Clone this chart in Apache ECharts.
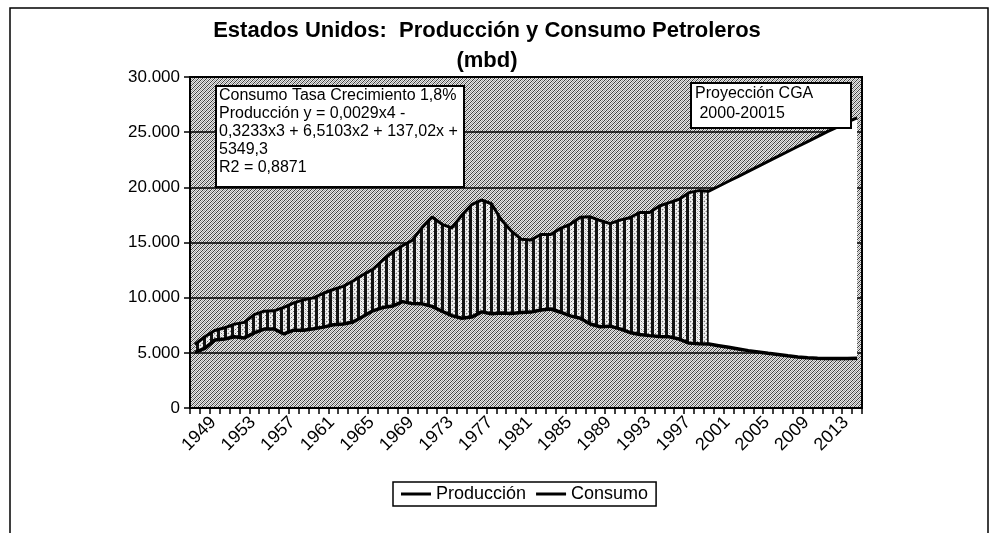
<!DOCTYPE html>
<html>
<head>
<meta charset="utf-8">
<title>Estados Unidos: Producción y Consumo Petroleros</title>
<script src="https://cdn.jsdelivr.net/npm/echarts@6.0.0/dist/echarts.min.js"></script>
<style>
  html, body { margin: 0; padding: 0; background: #fff; }
  #chart { width: 999px; height: 533px; }
</style>
</head>
<body>
<div id="chart"></div>
<script>
// años (categorías del eje x)
const years = [
  '1949', '1950', '1951', '1952', '1953', '1954', '1955', '1956', '1957', '1958',
  '1959', '1960', '1961', '1962', '1963', '1964', '1965', '1966', '1967', '1968',
  '1969', '1970', '1971', '1972', '1973', '1974', '1975', '1976', '1977', '1978',
  '1979', '1980', '1981', '1982', '1983', '1984', '1985', '1986', '1987', '1988',
  '1989', '1990', '1991', '1992', '1993', '1994', '1995', '1996', '1997', '1998',
  '1999', '2000', '2001', '2002', '2003', '2004', '2005', '2006', '2007', '2008',
  '2009', '2010', '2011', '2012', '2013', '2014', '2015', '2016'
]

// mbd, 1949-2001 histórico, 2002-2016 proyección
const produccion = [
  5050, 5410, 6160, 6260, 6460, 6340, 6810, 7150, 7170, 6710,
  7050, 7040, 7180, 7330, 7540, 7610, 7800, 8300, 8810, 9100,
  9240, 9640, 9460, 9440, 9210, 8770, 8370, 8130, 8240, 8710,
  8550, 8600, 8570, 8650, 8690, 8880, 8970, 8680, 8350, 8140,
  7610, 7360, 7420, 7170, 6850, 6660, 6560, 6470, 6450, 6250,
  5880, 5820, 5800, 5650, 5500, 5350, 5200, 5080, 4960, 4850,
  4730, 4620, 4550, 4500, 4480, 4480, 4480, 4500
]

const consumo = [
  5760, 6460, 7020, 7270, 7600, 7760, 8460, 8780, 8810, 9120,
  9530, 9800, 9980, 10400, 10740, 11020, 11510, 12080, 12560, 13390,
  14140, 14700, 15210, 16370, 17310, 16650, 16320, 17460, 18430, 18850,
  18510, 17060, 16060, 15300, 15230, 15730, 15730, 16280, 16670, 17280,
  17330, 16990, 16710, 17030, 17240, 17720, 17720, 18310, 18620, 18920,
  19520, 19700, 19650, 20100, 20550, 21000, 21450, 21900, 22350, 22800,
  23250, 23700, 24150, 24600, 25050, 25450, 25900, 26300
]

const ultimoHistorico = '2001'

const titulo = ['Estados Unidos:  Producción y Consumo Petroleros', '(mbd)']
const notaAjuste = [
  'Consumo Tasa Crecimiento 1,8%',
  'Producción y = 0,0029x4 -',
  '0,3233x3 + 6,5103x2 + 137,02x +',
  '5349,3',
  'R2 = 0,8871'
]
const notaProyeccion = ['Proyección CGA', ' 2000-20015']

const FONT = '"Liberation Sans", Arial, sans-serif'

// textura gris del fondo (trama diagonal)
function texturaGris() {
  const c = document.createElement('canvas')
  c.width = 4
  c.height = 4
  const ctx = c.getContext('2d')
  for (let y = 0; y < 4; y++) {
    for (let x = 0; x < 4; x++) {
      const k = (x + y) % 4
      ctx.fillStyle = k === 0 ? '#3e3e3e' : k === 2 ? '#a0a0a0' : '#e8e8e8'
      ctx.fillRect(x, y, 1, 1)
    }
  }
  return c
}

// rayado vertical entre las dos curvas
function rayado() {
  const c = document.createElement('canvas')
  c.width = 7
  c.height = 4
  const ctx = c.getContext('2d')
  ctx.fillStyle = 'rgba(255,255,255,0.7)'
  ctx.fillRect(3, 0, 4, 4)
  ctx.fillStyle = '#111'
  ctx.fillRect(0, 0, 3, 4)
  ctx.fillStyle = 'rgba(40,40,40,0.6)'
  ctx.fillRect(4, 1, 1, 1)
  ctx.fillRect(6, 3, 1, 1)
  return c
}

const iHist = years.indexOf(ultimoHistorico)
const baseHist = produccion.map((v, i) => (i <= iHist ? v : null))
const difHist = consumo.map((v, i) => (i <= iHist ? v - produccion[i] : null))
const baseProy = produccion.map((v, i) => (i >= iHist ? v : null))
const difProy = consumo.map((v, i) => (i >= iHist ? v - produccion[i] : null))

function miles(v) {
  return String(v).replace(/\B(?=(\d{3})+(?!\d))/g, '.')
}

const chart = echarts.init(document.getElementById('chart'))

const option = {
  animation: false,
  backgroundColor: '#fff',
  legend: {
    data: ['Producción', 'Consumo'],
    left: 393,
    top: 482,
    padding: [3, 8],
    icon: 'rect',
    itemWidth: 30,
    itemHeight: 3,
    itemGap: 10,
    backgroundColor: '#fff',
    borderColor: '#000',
    borderWidth: 1.5,
    textStyle: { fontFamily: FONT, fontSize: 18, color: '#000' }
  },
  grid: {
    left: 190,
    right: 137,
    top: 77,
    bottom: 125,
    show: true,
    backgroundColor: { image: texturaGris(), repeat: 'repeat' },
    borderColor: '#000',
    borderWidth: 2
  },
  xAxis: {
    type: 'category',
    data: years,
    boundaryGap: true,
    axisLine: { lineStyle: { color: '#000', width: 2 } },
    axisTick: { show: true, interval: 0, length: 6, lineStyle: { color: '#000', width: 1.5 } },
    axisLabel: {
      interval: 3,
      rotate: 45,
      align: 'center',
      verticalAlign: 'middle',
      padding: [0, 0, 0, 12],
      margin: 30,
      color: '#000',
      fontFamily: FONT,
      fontSize: 18
    },
    splitLine: { show: false }
  },
  yAxis: {
    type: 'value',
    min: 0,
    max: 30000,
    interval: 5000,
    axisLine: { show: true, lineStyle: { color: '#000', width: 2 } },
    axisTick: { show: true, length: 6, lineStyle: { color: '#000', width: 1.5 } },
    axisLabel: {
      margin: 10,
      color: '#000',
      fontFamily: FONT,
      fontSize: 17,
      formatter: miles
    },
    splitLine: { lineStyle: { color: '#000', width: 1.5 } }
  },
  series: [
    {
      name: 'baseHist',
      type: 'line',
      stack: 'hist',
      data: baseHist,
      symbol: 'none',
      lineStyle: { width: 0 },
      silent: true
    },
    {
      name: 'difHist',
      type: 'line',
      stack: 'hist',
      data: difHist,
      symbol: 'none',
      lineStyle: { width: 0 },
      areaStyle: { color: { image: rayado(), repeat: 'repeat' }, opacity: 1 },
      silent: true
    },
    {
      name: 'baseProy',
      type: 'line',
      stack: 'proy',
      data: baseProy,
      symbol: 'none',
      lineStyle: { width: 0 },
      silent: true
    },
    {
      name: 'difProy',
      type: 'line',
      stack: 'proy',
      data: difProy,
      symbol: 'none',
      lineStyle: { width: 0 },
      areaStyle: { color: '#fff', opacity: 1 },
      silent: true
    },
    {
      name: 'Producción',
      type: 'line',
      data: produccion,
      symbol: 'none',
      z: 5,
      itemStyle: { color: '#000' },
      lineStyle: { color: '#000', width: 3.5 }
    },
    {
      name: 'Consumo',
      type: 'line',
      data: consumo,
      symbol: 'none',
      z: 5,
      itemStyle: { color: '#000' },
      lineStyle: { color: '#000', width: 3 }
    }
  ],
  graphic: [
    // marco exterior
    {
      type: 'rect',
      z: 0,
      shape: { x: 10, y: 8, width: 978, height: 540 },
      style: { fill: 'none', stroke: '#000', lineWidth: 1.5 }
    },
    // título en dos líneas, centrado sobre el gráfico
    {
      type: 'text',
      z: 10,
      x: 487,
      y: 31,
      style: {
        text: titulo[0],
        font: 'bold 22px ' + FONT,
        textAlign: 'center',
        textVerticalAlign: 'middle',
        fill: '#000'
      }
    },
    {
      type: 'text',
      z: 10,
      x: 487,
      y: 61,
      style: {
        text: titulo[1],
        font: 'bold 22px ' + FONT,
        textAlign: 'center',
        textVerticalAlign: 'middle',
        fill: '#000'
      }
    },
    {
      type: 'rect',
      z: 100,
      shape: { x: 216, y: 86, width: 248, height: 101 },
      style: { fill: '#fff', stroke: '#000', lineWidth: 2 }
    },
    {
      type: 'text',
      z: 101,
      left: 219,
      top: 87,
      style: {
        text: notaAjuste.join('\n'),
        font: '16px ' + FONT,
        lineHeight: 18,
        fill: '#000'
      }
    },
    {
      type: 'rect',
      z: 100,
      shape: { x: 691, y: 83, width: 160, height: 45 },
      style: { fill: '#fff', stroke: '#000', lineWidth: 2 }
    },
    {
      type: 'text',
      z: 101,
      left: 695,
      top: 84,
      style: {
        text: notaProyeccion.join('\n'),
        font: '16px ' + FONT,
        lineHeight: 20,
        fill: '#000'
      }
    }
  ]
}

chart.setOption(option)
</script>
</body>
</html>
